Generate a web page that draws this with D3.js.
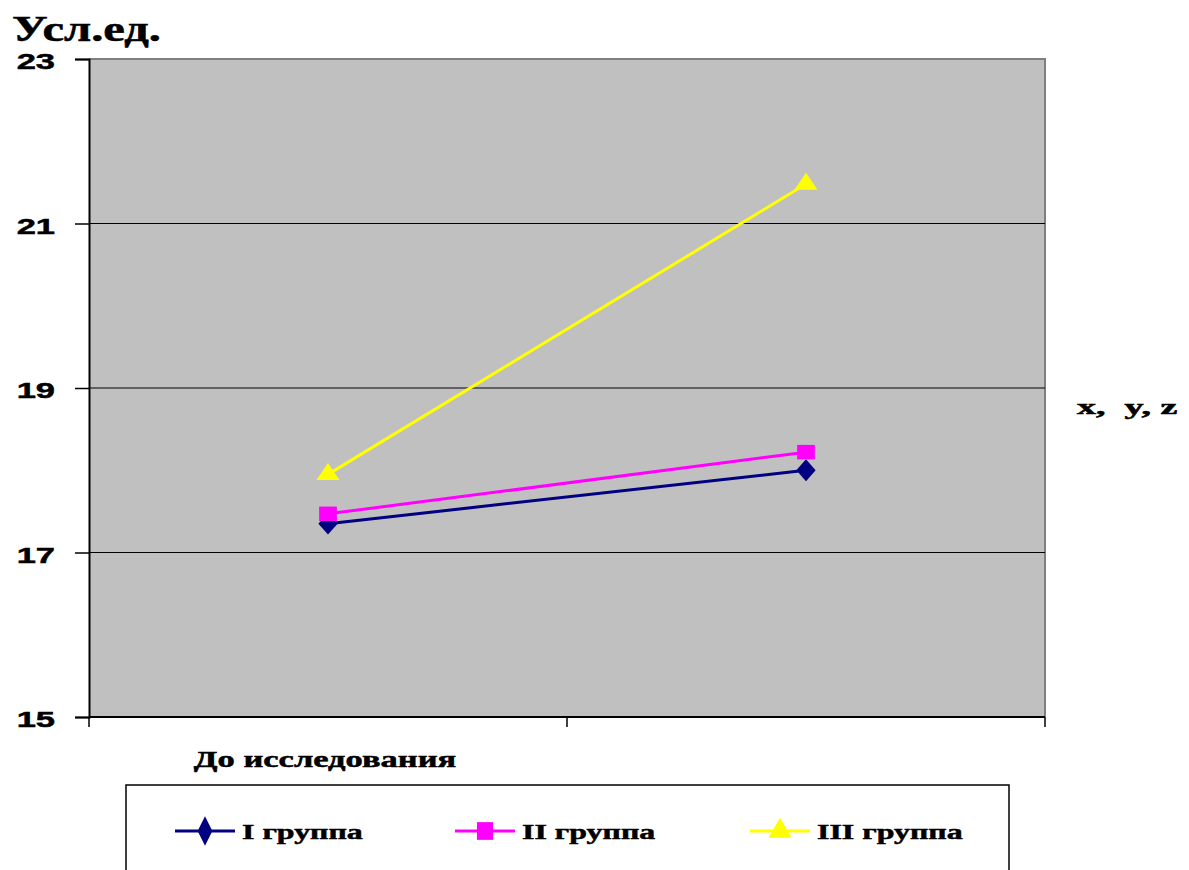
<!DOCTYPE html>
<html>
<head>
<meta charset="utf-8">
<script src="https://cdn.jsdelivr.net/npm/d3@7"></script>
<style>
  html, body { margin: 0; padding: 0; background: #fff; }
  svg { display: block; }
</style>
</head>
<body>
<svg id="chart" width="1189" height="870"></svg>
<script>
// Categories along the x axis (the second one carries no label)
const categories = ["До исследования", ""];

// Series values per group, in category order
const groupI = [17.35, 18.0];
const groupII = [17.47, 18.22];
const groupIII = [17.95, 21.48];

const seriesNames = ["I группа", "II группа", "III группа"];
const yTicks = [15, 17, 19, 21, 23];

const series = [
  { name: seriesNames[0], values: groupI, color: "#000080", marker: "diamond" },
  { name: seriesNames[1], values: groupII, color: "#FF00FF", marker: "square" },
  { name: seriesNames[2], values: groupIII, color: "#FFFF00", marker: "triangle" }
];

const SERIF = "'Liberation Serif', 'Times New Roman', serif";
const SANS = "'Liberation Sans', Arial, sans-serif";

const svg = d3.select("#chart");
const plot = { left: 89, right: 1045, top: 59, bottom: 717 };

const x = d3.scaleBand().domain(categories).range([plot.left, plot.right]).padding(0);
const y = d3.scaleLinear().domain([15, 23]).range([plot.bottom, plot.top]);

// Wide heavy text: horizontally stretched around its anchor point
function wideText(parent, tx, ty, str, opts) {
  return parent.append("text")
    .attr("transform", `translate(${tx},${ty}) scale(${opts.sx},1)`)
    .attr("text-anchor", opts.anchor || "start")
    .attr("font-family", opts.family)
    .attr("font-weight", "bold")
    .attr("font-size", opts.size)
    .attr("fill", "#000")
    .attr("stroke", "#000")
    .attr("stroke-width", 0.5)
    .attr("xml:space", "preserve")
    .text(str);
}

// Plot area background
svg.append("rect")
  .attr("x", plot.left).attr("y", plot.top)
  .attr("width", plot.right - plot.left).attr("height", plot.bottom - plot.top)
  .attr("fill", "#C0C0C0");

// Gray border on top and right
svg.append("path")
  .attr("d", `M${plot.left},${plot.top}H${plot.right}V${plot.bottom}`)
  .attr("fill", "none").attr("stroke", "#808080").attr("stroke-width", 2);

// Horizontal gridlines
svg.append("g").selectAll("line")
  .data(yTicks.filter(t => t > 15 && t < 23))
  .join("line")
  .attr("x1", plot.left).attr("x2", plot.right)
  .attr("y1", d => y(d)).attr("y2", d => y(d))
  .attr("stroke", "#000").attr("stroke-width", 1.2);

// Y axis (line and tick marks); labels drawn separately in a wide face
const yAxis = svg.append("g")
  .attr("transform", `translate(${plot.left},0)`)
  .call(d3.axisLeft(y).tickValues(yTicks).tickSize(14).tickFormat(""));
yAxis.select(".domain").attr("stroke", "#000").attr("stroke-width", 2);
yAxis.selectAll(".tick line").attr("stroke", "#000").attr("stroke-width", 1.5);

const yLabels = svg.append("g");
yTicks.forEach(t => {
  wideText(yLabels, 55, y(t) + 10, d3.format("d")(t), { sx: 1.5, size: 23, family: SANS, anchor: "end" });
});

// X axis: ticks at category boundaries
const boundaries = [plot.left, ...categories.map(c => x(c) + x.bandwidth())];
svg.append("line")
  .attr("x1", plot.left).attr("x2", plot.right)
  .attr("y1", plot.bottom).attr("y2", plot.bottom)
  .attr("stroke", "#000").attr("stroke-width", 2);
svg.append("g").selectAll("line")
  .data(boundaries)
  .join("line")
  .attr("x1", d => d).attr("x2", d => d)
  .attr("y1", plot.bottom).attr("y2", plot.bottom + 10)
  .attr("stroke", "#000").attr("stroke-width", 1.5);

// Category labels
const catLabels = svg.append("g");
categories.forEach(c => {
  wideText(catLabels, x(c) + x.bandwidth() / 2 - 3, 767, c, { sx: 1.5, size: 23, family: SERIF, anchor: "middle" });
});

// Marker shapes
const markerPath = {
  diamond: d3.symbol().type(d3.symbolDiamond).size(190)(),
  square: d3.symbol().type(d3.symbolSquare).size(260)(),
  triangle: d3.symbol().type(d3.symbolTriangle).size(230)()
};
const markerScale = { diamond: " scale(1.3,0.85)", square: " scale(1.1,0.9)", triangle: " scale(1,0.85)" };

const line = d3.line()
  .x((d, i) => x(categories[i]) + x.bandwidth() / 2)
  .y(d => y(d));

// Series lines and markers
series.forEach(s => {
  svg.append("path")
    .datum(s.values)
    .attr("d", line)
    .attr("fill", "none")
    .attr("stroke", s.color)
    .attr("stroke-width", 3);
  svg.append("g").selectAll("path")
    .data(s.values)
    .join("path")
    .attr("transform", (d, i) => `translate(${x(categories[i]) + x.bandwidth() / 2},${y(d)})${markerScale[s.marker]}`)
    .attr("d", markerPath[s.marker])
    .attr("fill", s.color);
});

// Y axis title
wideText(svg, 12, 41, "Усл.ед.", { sx: 1.35, size: 36, family: SERIF });

// Right side label
wideText(svg, 1077, 414, "x,  y, z", { sx: 1.9, size: 20, family: SERIF });

// Legend
svg.append("rect")
  .attr("x", 126).attr("y", 785)
  .attr("width", 883).attr("height", 120)
  .attr("fill", "#fff").attr("stroke", "#000").attr("stroke-width", 1.5);

const legendX = [175, 455, 750];
series.forEach((s, i) => {
  const g = svg.append("g").attr("transform", `translate(${legendX[i]},831)`);
  g.append("line")
    .attr("x1", 0).attr("x2", 60).attr("y1", 0).attr("y2", 0)
    .attr("stroke", s.color).attr("stroke-width", 3);
  g.append("path")
    .attr("transform", `translate(30,0)${s.marker === "diamond" ? " scale(1.0,1.15)" : s.marker === "square" ? " scale(1.0,1.1)" : ""}`)
    .attr("d", markerPath[s.marker])
    .attr("fill", s.color);
  wideText(g, 67, 8, s.name, { sx: 1.45, size: 22, family: SERIF });
});
</script>
</body>
</html>
